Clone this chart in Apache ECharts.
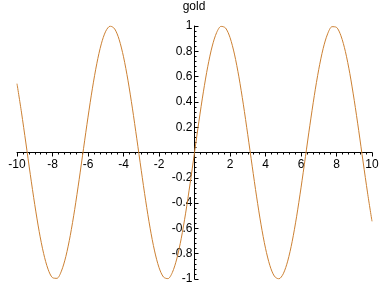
<!DOCTYPE html>
<html>
<head>
<meta charset="utf-8">
<script src="https://cdn.jsdelivr.net/npm/echarts@6/dist/echarts.min.js"></script>
<style>html,body{margin:0;padding:0;background:#fff;}#c{width:388px;height:288px;}</style>
</head>
<body>
<div id="c"></div>
<script>
var titleText = 'gold';
var xValues = [-10,-9.75,-9.5,-9.25,-9,-8.75,-8.5,-8.25,-8,-7.75,-7.5,-7.25,-7,-6.75,-6.5,-6.25,-6,-5.75,-5.5,-5.25,-5,-4.75,-4.5,-4.25,-4,-3.75,-3.5,-3.25,-3,-2.75,-2.5,-2.25,-2,-1.75,-1.5,-1.25,-1,-0.75,-0.5,-0.25,0,0.25,0.5,0.75,1,1.25,1.5,1.75,2,2.25,2.5,2.75,3,3.25,3.5,3.75,4,4.25,4.5,4.75,5,5.25,5.5,5.75,6,6.25,6.5,6.75,7,7.25,7.5,7.75,8,8.25,8.5,8.75,9,9.25,9.5,9.75,10];
var yValues = [0.544,0.3195,0.0752,-0.1743,-0.4121,-0.6247,-0.7985,-0.9228,-0.9894,-0.9946,-0.938,-0.8231,-0.657,-0.45,-0.2151,0.0332,0.2794,0.5083,0.7055,0.8589,0.9589,0.9993,0.9775,0.895,0.7568,0.5716,0.3508,0.1082,-0.1411,-0.3817,-0.5985,-0.7781,-0.9093,-0.984,-0.9975,-0.949,-0.8415,-0.6816,-0.4794,-0.2474,0,0.2474,0.4794,0.6816,0.8415,0.949,0.9975,0.984,0.9093,0.7781,0.5985,0.3817,0.1411,-0.1082,-0.3508,-0.5716,-0.7568,-0.895,-0.9775,-0.9993,-0.9589,-0.8589,-0.7055,-0.5083,-0.2794,-0.0332,0.2151,0.45,0.657,0.8231,0.938,0.9946,0.9894,0.9228,0.7985,0.6247,0.4121,0.1743,-0.0752,-0.3195,-0.544];
var xTicks = [-10,-8,-6,-4,-2,0,2,4,6,8,10];
var yTicks = [-1,-0.8,-0.6,-0.4,-0.2,0,0.2,0.4,0.6,0.8,1];

var pts = xValues.map(function(x,i){return [x,yValues[i]];});
var chart = echarts.init(document.getElementById('c'), null, {renderer:'canvas'});
var font = 'Liberation Sans, Arial, sans-serif';
var G = {left:17, right:16, top:26, bottom:9};
var W = 388, H = 288;
var gw = W - G.left - G.right, gh = H - G.top - G.bottom;
var xMin = xTicks[0], xMax = xTicks[xTicks.length-1];
var yMin = yTicks[0], yMax = yTicks[yTicks.length-1];
// offsets so the axes cross at the origin
var yOff = -gw * (0 - xMin) / (xMax - xMin);
var xOff = -gh * (0 - yMin) / (yMax - yMin);
chart.setOption({
  animation:false,
  backgroundColor:'#ffffff',
  title:{text:titleText,left:'center',top:0,padding:[1,0,0,0],
    textStyle:{fontFamily:font,fontSize:12,fontWeight:'normal',color:'#000'}},
  grid:{left:G.left,right:G.right,top:G.top,bottom:G.bottom,containLabel:false,outerBoundsMode:'none'},
  xAxis:{type:'value',min:xMin,max:xMax,interval:2,position:'bottom',offset:xOff,
    axisLine:{show:true,onZero:false,lineStyle:{color:'#000',width:1}},
    axisTick:{show:true,length:4,lineStyle:{color:'#000'}},
    minorTick:{show:true,splitNumber:6,length:2,lineStyle:{color:'#000'}},
    splitLine:{show:false},
    axisLabel:{margin:6,color:'#000',fontFamily:font,fontSize:12,hideOverlap:false,
      formatter:function(v){return v===0?'':String(v);}}},
  yAxis:{type:'value',min:yMin,max:yMax,interval:0.2,position:'left',offset:yOff,
    axisLine:{show:true,onZero:false,lineStyle:{color:'#000',width:1}},
    axisTick:{show:true,inside:true,length:4,lineStyle:{color:'#000'}},
    minorTick:{show:true,splitNumber:5,length:2,lineStyle:{color:'#000'}},
    splitLine:{show:false},
    axisLabel:{margin:2,color:'#000',fontFamily:font,fontSize:12,hideOverlap:false,
      formatter:function(v){var r=Math.round(v*10)/10;return r===0?'':String(r);}}},
  series:[{type:'line',data:pts,showSymbol:false,smooth:0.3,
    lineStyle:{color:'#cc8033',width:1},itemStyle:{color:'#cc8033'}}]
});
</script>
</body>
</html>
